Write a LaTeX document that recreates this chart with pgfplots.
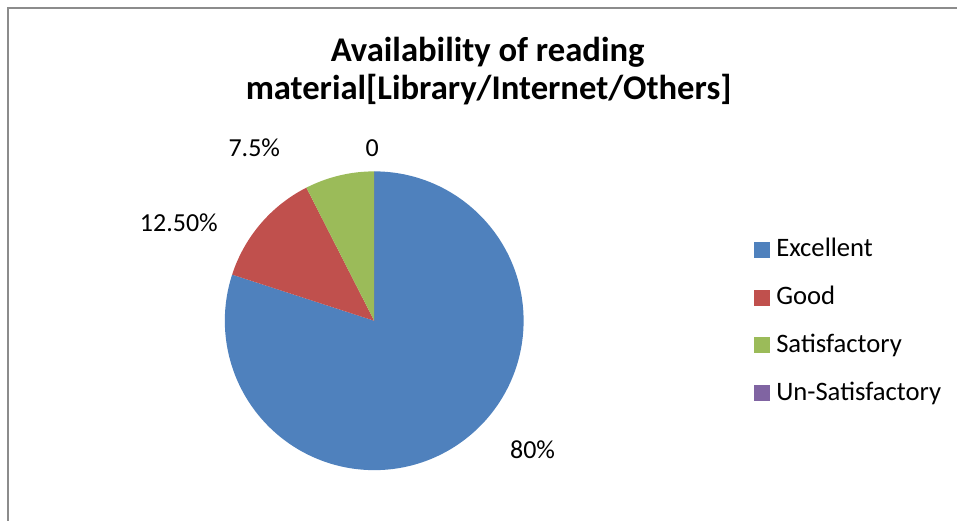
\documentclass[border=0pt]{standalone}
\usepackage{pgfplots}
\pgfplotsset{compat=1.18}
\usepackage{pgfplotstable}
\usepackage{fontspec}
\setmainfont{Carlito}

\definecolor{cExc}{HTML}{4F81BD}
\definecolor{cGood}{HTML}{C0504D}
\definecolor{cSat}{HTML}{9BBB59}
\definecolor{cUns}{HTML}{8064A2}
\definecolor{frame}{HTML}{8C8C8C}

% share of answers, in percent
\pgfplotstableread{
label value color
Excellent 80 cExc
Good 12.5 cGood
Satisfactory 7.5 cSat
Un-Satisfactory 0 cUns
}\piedata

\begin{document}
\begin{tikzpicture}
\begin{axis}[
    scale only axis,
    width=718.5pt, height=390.75pt,
    xmin=0, xmax=958, ymin=0, ymax=521,
    hide axis, clip=false,
    legend image code/.code={\fill[#1] (0pt,-5.625pt) rectangle (11.25pt,5.625pt);},
    legend style={
        at={(axis description cs:0.7871,0.5443)}, anchor=north west,
        draw=none, fill=none, inner xsep=0pt, inner ysep=0pt,
        column sep=5.25pt, row sep=18.25pt,
        font=\fontsize{20}{24}\selectfont,
        nodes={inner sep=0pt, text height=14.5pt, text depth=3.25pt},
        cells={anchor=west},
    },
]
\path (axis cs:0,0) rectangle (axis cs:958,521);
\draw[frame, line width=1.1pt] (axis cs:8,0) -- (axis cs:8,513) -- (axis cs:958,513);

% wedges, clockwise from 12 o'clock
\def\angcur{90}
\pgfplotsforeachungrouped \i in {0,...,3}{%
    \pgfplotstablegetelem{\i}{value}\of\piedata \let\wval\pgfplotsretval
    \pgfplotstablegetelem{\i}{color}\of\piedata \let\wcol\pgfplotsretval
    \pgfmathsetmacro\angnext{\angcur-3.6*\wval}%
    \edef\cmd{\noexpand\fill[\wcol] (axis cs:374.5,200) -- ++(\angcur:112.125pt)
        arc[start angle=\angcur, end angle=\angnext, radius=112.125pt] -- cycle;}%
    \cmd
    \let\angcur\angnext
}

\addlegendimage{cExc}\addlegendentry{Excellent}
\addlegendimage{cGood}\addlegendentry{Good}
\addlegendimage{cSat}\addlegendentry{Satisfactory}
\addlegendimage{cUns}\addlegendentry{Un-Satisfactory}

% data labels
\begin{scope}[font=\fontsize{19.5}{23}\selectfont]
\node[anchor=base] at (axis cs:254.5,364) {7.5\%};
\node[anchor=base] at (axis cs:372.5,364) {0};
\node[anchor=base] at (axis cs:179,289) {12.50\%};
\node[anchor=base] at (axis cs:533,62) {80\%};
\end{scope}

% title
\node[anchor=base, font=\bfseries\fontsize{26}{31}\selectfont] at (axis cs:488,459) {Availability of reading};
\node[anchor=base, font=\bfseries\fontsize{26}{31}\selectfont] at (axis cs:489,421.5) {material[Library/Internet/Others]};
\end{axis}
\end{tikzpicture}
\end{document}
